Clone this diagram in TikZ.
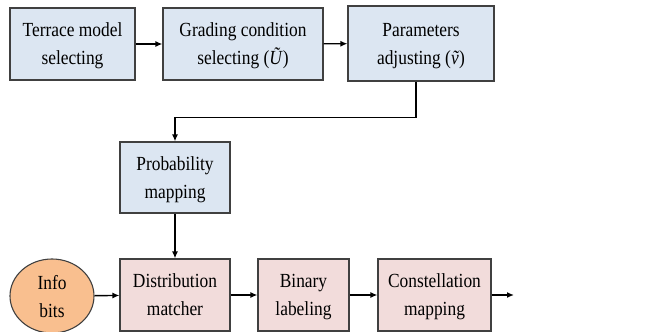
\documentclass[tikz,border=0pt]{standalone}
\usepackage{fontspec}
\setmainfont{Liberation Serif}[FakeStretch=0.87]
\usetikzlibrary{arrows.meta,shapes.geometric,calc}
\definecolor{boxblue}{HTML}{DCE6F2}
\definecolor{boxpink}{HTML}{F2DCDB}
\definecolor{boxorange}{HTML}{F9BF8F}
\definecolor{edge}{HTML}{404040}
\tikzset{
  blk/.style={draw=edge,line width=1.1pt,align=center,inner sep=0pt,text depth=0pt,
    font=\fontsize{20}{28}\selectfont},
  bluebox/.style={blk,fill=boxblue},
  pinkbox/.style={blk,fill=boxpink},
  arr/.style={line width=1.4pt,-{Latex[length=7pt,width=6pt]}}
}
\begin{document}
\begin{tikzpicture}[x=1pt,y=-1pt]
\useasboundingbox (0,0) rectangle (654,332);
\node[bluebox,minimum width=125pt,minimum height=72pt] (t1) at (72.5,44) {Terrace model\\selecting};
\node[bluebox,minimum width=160pt,minimum height=72pt] (t2) at (243,44) {Grading condition\\selecting (\textit{\~{U}})};
\node[bluebox,minimum width=146pt,minimum height=75pt] (t3) at (421,43.5) {Parameters\\adjusting (\textit{\~{v}})};
\node[bluebox,minimum width=110pt,minimum height=71pt] (pm) at (175,177.5) {Probability\\mapping};
\node[blk,ellipse,fill=boxorange,minimum width=84pt,minimum height=74pt] (info) at (52,296) {Info\\bits};
\node[pinkbox,minimum width=110pt,minimum height=72pt] (dm) at (175,295) {Distribution\\matcher};
\node[pinkbox,minimum width=91pt,minimum height=72pt] (bl) at (303.5,295) {Binary\\labeling};
\node[pinkbox,minimum width=113pt,minimum height=72pt] (cm) at (434.5,295) {Constellation\\mapping};
\coordinate (out) at (514,295);
\draw[arr] (t1) -- (t2);
\draw[arr] (t2) -- (t3);
\draw[arr] ([xshift=-5pt]t3.south) -- ++(0,36) -| (pm.north);
\draw[arr] (pm) -- (dm);
\draw[arr] (info) -- (dm);
\draw[arr] (dm) -- (bl);
\draw[arr] (bl) -- (cm);
\draw[arr] (cm) -- (out);
\end{tikzpicture}
\end{document}
